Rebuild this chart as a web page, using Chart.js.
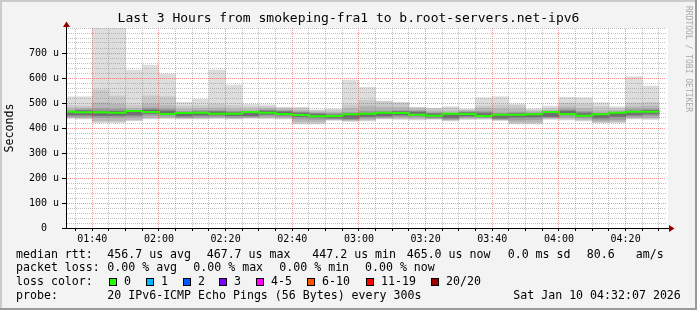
<!DOCTYPE html>
<html>
<head>
<meta charset="utf-8">
<script src="https://cdn.jsdelivr.net/npm/chart.js@4.4.1/dist/chart.umd.min.js"></script>
<style>
html,body{margin:0;padding:0;background:#f3f3f3;overflow:hidden;}
canvas{display:block;}
</style>
</head>
<body>
<canvas id="c" width="697" height="310"></canvas>
<script>
// ---------------- data ----------------
const windowStart = "01:32:07";
const windowEnd   = "04:32:07";
const intervalStarts = ["01:30","01:35","01:40","01:45","01:50","01:55","02:00","02:05","02:10","02:15","02:20","02:25",
  "02:30","02:35","02:40","02:45","02:50","02:55","03:00","03:05","03:10","03:15","03:20","03:25",
  "03:30","03:35","03:40","03:45","03:50","03:55","04:00","04:05","04:10","04:15","04:20","04:25"];
// sorted ping values (microseconds) per 5-minute interval, outer to inner
const pMax = [525,525,830,830,632,652,616,503,515,632,572,495,493,483,483,472,476,592,563,508,503,483,479,485,476,521,525,496,476,488,523,521,501,485,605,568];
const p19  = [490,488,552,528,492,529,525,488,490,495,490,484,486,480,478,470,472,492,510,505,500,482,478,480,472,488,492,490,472,478,500,496,485,478,500,502];
const p18  = [478,480,500,495,478,495,490,475,478,480,476,474,478,474,470,464,463,478,488,484,482,474,468,466,470,478,476,474,466,470,485,478,470,470,485,488];
const p16  = [470,474,478,476,470,480,476,466,470,470,467,466,472,469,464,460,457,462,468,468,470,468,461,458,465,466,460,463,460,463,474,466,460,464,474,476];
const p13  = [465,469,467,467,465,472,468,460,464,465,461,461,468,465,460,456,452,453,459,461,465,464,457,453,461,460,453,457,457,459,468,460,453,459,466,470];
const medians = [461,465,463,463,461,468,464,456,460,461,457,457,464,461,456,452,447,448,455,457,461,460,453,449,457,456,448,453,453,455,464,456,449,455,461,465];
const p8   = [452,452,450,450,452,458,455,448,451,452,449,449,455,452,446,443,440,438,446,448,452,451,444,440,448,447,439,443,444,446,454,447,440,446,452,456];
const p5   = [446,446,442,443,445,450,448,442,445,446,443,444,448,446,436,434,436,433,439,443,446,445,440,435,443,442,435,432,434,442,446,440,432,434,446,448];
const p3   = [443,441,430,430,434,442,443,440,441,442,440,443,443,441,426,426,434,431,434,440,440,438,438,433,439,439,433,424,424,439,439,434,426,427,441,441];
const p2   = [441,438,425,425,431,439,440,439,438,440,438,441,440,438,420,420,433,429,431,438,437,435,437,431,436,437,432,420,420,437,435,431,423,424,438,437];
const pMin = [438,436,421,421,428,436,438,436,436,438,436,438,438,436,416,416,430,426,428,436,434,432,434,428,434,434,430,416,416,434,432,428,421,421,436,434];

const xTickLabels = ["01:40","02:00","02:20","02:40","03:00","03:20","03:40","04:00","04:20"];
const yTickLabels = ["0","100 u","200 u","300 u","400 u","500 u","600 u","700 u"];
const yAxisMax = 800;

const lossLabels = ["0","1","2","3","4-5","6-10","11-19","20/20"];
const lossColors = ["#26ff00","#00b8ff","#0059ff","#7e00ff","#ff00ff","#ff5500","#ff0000","#a10000"];
const rttStats  = ["456.7 us avg","467.7 us max","447.2 us min","465.0 us now","0.0 ms sd","80.6","am/s"];
const lossStats = ["0.00 % avg","0.00 % max","0.00 % min","0.00 % now"];
const titleText = "Last 3 Hours from smokeping-fra1 to b.root-servers.net-ipv6";
const probeText = "20 IPv6-ICMP Echo Pings (56 Bytes) every 300s";
const dateText  = "Sat Jan 10 04:32:07 2026";

// ---------------- build ----------------
const MONO = "'DejaVu Sans Mono', monospace";
const STEP = 5;
const toMin = s => { const p = s.split(':').map(Number); return p[0]*60 + p[1] + (p[2]||0)/60; };
const fmt = v => { const t = Math.round(v); const h = Math.floor(t/60), m = t%60; return String(h).padStart(2,'0')+':'+String(m).padStart(2,'0'); };
const xMin = toMin(windowStart), xMax = toMin(windowEnd);
const centers = intervalStarts.map(s => toMin(s) + STEP/2);
const band = (lo, hi) => centers.map((x,i) => ({x, y:[lo[i], hi[i]]}));

const layers = [
  {lo:pMin, hi:pMax, color:'#dddddd'},
  {lo:p2,   hi:p19,  color:'#cacaca'},
  {lo:p3,   hi:p18,  color:'#b7b7b7'},
  {lo:p5,   hi:p16,  color:'#9c9c9c'},
  {lo:p8,   hi:p13,  color:'#6e6e6e'}
];
const datasets = layers.map((L,k) => ({
  type:'bar', data: band(L.lo, L.hi), backgroundColor: L.color, borderWidth:0,
  barPercentage:1, categoryPercentage:1, grouped:false, order: 10-k
}));
const medianPts = intervalStarts.map((s,i) => ({x: toMin(s), y: medians[i]}));
medianPts.push({x: toMin(intervalStarts[intervalStarts.length-1]) + STEP, y: medians[medians.length-1]});
datasets.push({type:'line', data: medianPts, borderColor:'#26ff00', borderWidth:2, pointRadius:0,
  stepped:'after', fill:false, order:0, borderCapStyle:'butt'});

// dotted grid as 2x2 checker patterns (deterministic 1-on/1-off dots)
const canvas = document.getElementById('c');
const mainCtx = canvas.getContext('2d');
function dotPattern(color){
  const pc = document.createElement('canvas'); pc.width = 2; pc.height = 2;
  const g = pc.getContext('2d'); g.fillStyle = color;
  g.fillRect(0,0,1,1); g.fillRect(1,1,1,1);
  return mainCtx.createPattern(pc, 'repeat');
}
const GRID_MINOR = dotPattern('rgba(140,140,140,0.55)');
const GRID_MAJOR = dotPattern('rgba(255,40,40,0.5)');
const isMajorX = v => Math.round(v) % 20 === 0;
const isMajorY = v => v % 100 === 0 && v < yAxisMax;

const decor = {
  id:'decor',
  beforeDraw(chart){
    const {ctx, chartArea:a, width:W, height:H} = chart;
    ctx.save();
    ctx.fillStyle = '#f3f3f3'; ctx.fillRect(0,0,W,H);
    ctx.fillStyle = '#cbcbcb'; ctx.fillRect(0,0,W,2); ctx.fillRect(0,0,2,H);
    ctx.fillStyle = '#9a9a9a'; ctx.fillRect(0,H-2,W,2); ctx.fillRect(W-2,0,2,H);
    ctx.fillStyle = '#ffffff'; ctx.fillRect(a.left, a.top, a.right-a.left+2, a.bottom-a.top);
    ctx.restore();
  },
  afterDraw(chart){
    const {ctx, chartArea:a} = chart;
    ctx.save();
    const ax = Math.round(a.left)+0.5, ay = Math.round(a.bottom)+0.5;
    ctx.strokeStyle = '#000'; ctx.lineWidth = 1;
    ctx.beginPath(); ctx.moveTo(ax, ay); ctx.lineTo(ax, a.top-2); ctx.stroke();
    ctx.beginPath(); ctx.moveTo(a.left-4, ay); ctx.lineTo(a.right+3, ay); ctx.stroke();
    ctx.fillStyle = '#900000';
    ctx.beginPath(); ctx.moveTo(ax-3.5, a.top-1); ctx.lineTo(ax+3.5, a.top-1); ctx.lineTo(ax, a.top-6.5); ctx.closePath(); ctx.fill();
    ctx.beginPath(); ctx.moveTo(a.right+3, ay-3.5); ctx.lineTo(a.right+3, ay+3.5); ctx.lineTo(a.right+8.5, ay); ctx.closePath(); ctx.fill();

    // title
    ctx.fillStyle = '#000'; ctx.textBaseline = 'middle';
    ctx.font = '13px ' + MONO; ctx.textAlign = 'center';
    ctx.fillText(titleText, chart.width/2, 19);
    // y title
    ctx.save(); ctx.translate(10, (a.top+a.bottom)/2); ctx.rotate(-Math.PI/2);
    ctx.font = '11.6px ' + MONO; ctx.fillText('Seconds', 0, 0); ctx.restore();
    // watermark
    ctx.save(); ctx.translate(688, 59); ctx.rotate(Math.PI/2);
    ctx.font = '8px ' + MONO; ctx.fillStyle = '#a8a8a8'; ctx.fillText('RRDTOOL / TOBI OETIKER', 0, 0); ctx.restore();

    // legend
    ctx.font = '11.6px ' + MONO; ctx.textAlign = 'left'; ctx.fillStyle = '#000';
    const r1 = 255, r2 = 268, r3 = 282, r4 = 296;
    ctx.fillText('median rtt:', 16, r1);
    [107.3, 206.7, 312.3, 406.7, 507.7, 586.7, 635.7].forEach((x,i) => ctx.fillText(rttStats[i], x, r1));
    ctx.fillText('packet loss:', 16, r2);
    [107.3, 193.3, 279.3, 365].forEach((x,i) => ctx.fillText(lossStats[i], x, r2));
    ctx.fillText('loss color:', 16, r3);
    const boxX = [109, 145.7, 182.7, 219, 255.7, 307.3, 365.7, 430.7];
    boxX.forEach((x,i) => {
      const bx = Math.round(x);
      ctx.fillStyle = lossColors[i]; ctx.fillRect(bx, r3-4, 8, 8);
      ctx.strokeStyle = '#000'; ctx.lineWidth = 1; ctx.strokeRect(bx+0.5, r3-3.5, 7, 7);
      ctx.fillStyle = '#000'; ctx.fillText(lossLabels[i], bx+15, r3);
    });
    ctx.fillText('probe:', 16, r4);
    ctx.fillText(probeText, 107.3, r4);
    ctx.fillText(dateText, 513.3, r4);
    ctx.restore();
  }
};

new Chart(canvas, {
  type:'bar',
  data:{ datasets },
  options:{
    responsive:false, animation:false, devicePixelRatio:1,
    layout:{ padding:{ left:0, top:28, right:31, bottom:0 } },
    plugins:{ legend:{display:false}, tooltip:{enabled:false}, title:{display:false} },
    scales:{
      x:{
        type:'linear', min:xMin, max:xMax, offset:false,
        grid:{ offset:false, z:1, lineWidth:1, drawTicks:true, tickLength:3, tickColor:'#000',
          color: c => (c.tick && isMajorX(c.tick.value)) ? GRID_MAJOR : GRID_MINOR },
        border:{ display:false },
        ticks:{ autoSkip:false, maxRotation:0, minRotation:0, padding:2, color:'#000',
          font:{ family:MONO, size:10 },
          callback: v => { const l = fmt(v); return xTickLabels.includes(l) ? l : ''; } },
        afterBuildTicks: s => { const t = []; for (let v = Math.ceil(xMin/STEP)*STEP; v <= xMax; v += STEP) t.push({value:v}); s.ticks = t; },
        afterFit: s => { s.height = 82; }
      },
      y:{
        type:'linear', min:0, max:yAxisMax,
        grid:{ z:1, lineWidth:1, drawTicks:true, tickLength:4,
          tickColor: c => (c.tick && isMajorY(c.tick.value)) ? '#000' : 'rgba(0,0,0,0)',
          color: c => (c.tick && isMajorY(c.tick.value)) ? GRID_MAJOR : GRID_MINOR },
        border:{ display:false },
        ticks:{ autoSkip:false, padding:3, crossAlign:'center', color:'#000',
          font:{ family:MONO, size:10 },
          callback: v => isMajorY(v) ? yTickLabels[v/100] : '' },
        afterBuildTicks: s => { const t = []; for (let v = 0; v <= yAxisMax; v += 20) t.push({value:v}); s.ticks = t; },
        afterFit: s => { s.width = 66; }
      }
    }
  },
  plugins:[decor]
});
</script>
</body>
</html>
